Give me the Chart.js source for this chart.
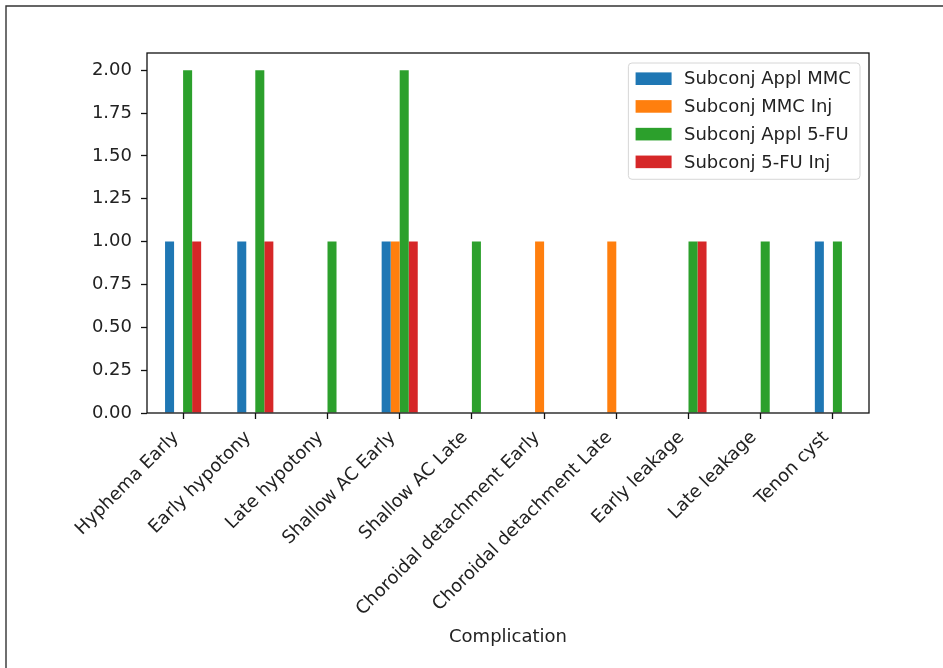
<!DOCTYPE html>
<html>
<head>
<meta charset="utf-8">
<script src="https://cdn.jsdelivr.net/npm/chart.js@4/dist/chart.umd.min.js"></script>
<style>
  html, body { margin: 0; padding: 0; background: #fff; }
  #wrap { position: relative; width: 943px; height: 668px; }
  canvas { display: block; }
</style>
</head>
<body>
<div id="wrap"><canvas id="c" width="943" height="668"></canvas></div>
<script>
// Complications per treatment group
const categories = [
  'Hyphema Early', 'Early hypotony', 'Late hypotony', 'Shallow AC Early',
  'Shallow AC Late', 'Choroidal detachment Early', 'Choroidal detachment Late',
  'Early leakage', 'Late leakage', 'Tenon cyst'
];
const seriesNames = ['Subconj Appl MMC', 'Subconj MMC Inj', 'Subconj Appl 5-FU', 'Subconj 5-FU Inj'];
const applMMC  = [1, 1, 0, 1, 0, 0, 0, 0, 0, 1];
const injMMC   = [0, 0, 0, 1, 0, 1, 1, 0, 0, 0];
const appl5FU  = [2, 2, 1, 2, 1, 0, 0, 1, 1, 1];
const inj5FU   = [1, 1, 0, 1, 0, 0, 0, 1, 0, 0];
const yTicks   = [0, 0.25, 0.5, 0.75, 1.0, 1.25, 1.5, 1.75, 2.0];
const xTitle   = 'Complication';

const colors = ['#1f77b4', '#ff7f0e', '#2ca02c', '#d62728'];
const FONT = '"DejaVu Sans", sans-serif';
const FS = 18;
const TEXT = '#222';

// white page with the output cell's frame lines
const pageFrame = {
  id: 'pageFrame',
  beforeDraw(chart) {
    const ctx = chart.ctx;
    ctx.save();
    ctx.fillStyle = '#fff';
    ctx.fillRect(0, 0, chart.width, chart.height);
    ctx.strokeStyle = '#333';
    ctx.lineWidth = 1.4;
    ctx.beginPath();
    ctx.moveTo(6, chart.height);
    ctx.lineTo(6, 6);
    ctx.lineTo(chart.width, 6);
    ctx.stroke();
    ctx.restore();
  }
};

// full box around the plot area
const axesBox = {
  id: 'axesBox',
  afterDatasetsDraw(chart) {
    const a = chart.chartArea;
    const ctx = chart.ctx;
    ctx.save();
    ctx.strokeStyle = '#111';
    ctx.lineWidth = 1.3;
    ctx.strokeRect(a.left, a.top, a.right - a.left, a.bottom - a.top);
    ctx.restore();
  }
};

// legend drawn inside the upper-right corner of the plot area
const innerLegend = {
  id: 'innerLegend',
  afterDraw(chart) {
    const ctx = chart.ctx;
    const a = chart.chartArea;
    ctx.save();
    ctx.font = FS + 'px ' + FONT;
    const dsets = chart.data.datasets;
    let maxW = 0;
    dsets.forEach(d => { maxW = Math.max(maxW, ctx.measureText(d.label).width); });
    const pad = 0.4 * FS, handle = 2.0 * FS, gap = 0.8 * FS, rowH = 1.54 * FS;
    const w = pad + handle + gap + maxW + pad;
    const h = pad * 2 + rowH * dsets.length - 0.5 * FS;
    const x = a.right - 0.5 * FS - w;
    const y = a.top + 0.5 * FS + 1;
    const r = 3.6;
    ctx.beginPath();
    ctx.moveTo(x + r, y);
    ctx.arcTo(x + w, y, x + w, y + h, r);
    ctx.arcTo(x + w, y + h, x, y + h, r);
    ctx.arcTo(x, y + h, x, y, r);
    ctx.arcTo(x, y, x + w, y, r);
    ctx.closePath();
    ctx.fillStyle = 'rgba(255,255,255,0.8)';
    ctx.fill();
    ctx.strokeStyle = '#d6d6d6';
    ctx.lineWidth = 1;
    ctx.stroke();
    ctx.textBaseline = 'middle';
    ctx.textAlign = 'left';
    dsets.forEach((d, i) => {
      const cy = y + pad + 0.5 * FS - 0.5 + i * rowH;
      ctx.fillStyle = d.backgroundColor;
      ctx.fillRect(x + pad, cy - 0.35 * FS, handle, 0.7 * FS);
      ctx.fillStyle = TEXT;
      ctx.fillText(d.label, x + pad + handle + gap - 2, cy + 1);
    });
    ctx.restore();
  }
};

const seriesValues = [applMMC, injMMC, appl5FU, inj5FU];

new Chart(document.getElementById('c'), {
  type: 'bar',
  data: {
    labels: categories,
    datasets: seriesNames.map((name, i) => ({
      label: name,
      data: seriesValues[i],
      backgroundColor: colors[i],
      borderWidth: 0,
      categoryPercentage: 0.5,
      barPercentage: 1.0
    }))
  },
  options: {
    responsive: false,
    animation: false,
    devicePixelRatio: 1,
    layout: { padding: { left: 0, top: 53, right: 74, bottom: 0 } },
    plugins: {
      legend: { display: false },
      tooltip: { enabled: false }
    },
    scales: {
      x: {
        offset: true,
        grid: {
          offset: false,
          drawOnChartArea: false,
          drawTicks: true,
          tickLength: 6,
          tickWidth: 1.3,
          tickColor: '#111'
        },
        border: { display: false },
        ticks: {
          autoSkip: false,
          maxRotation: 45,
          minRotation: 45,
          padding: 8,
          labelOffset: -7,
          color: TEXT,
          font: { family: FONT, size: FS }
        },
        title: {
          display: true,
          text: xTitle,
          color: TEXT,
          font: { family: FONT, size: FS },
          padding: { top: 4, bottom: 20 }
        },
        afterFit(scale) { scale.height = 255; }
      },
      y: {
        min: 0,
        max: 2.1,
        grid: {
          drawOnChartArea: false,
          drawTicks: true,
          tickLength: 6,
          tickWidth: 1.3,
          tickColor: '#111'
        },
        border: { display: false },
        afterBuildTicks(scale) { scale.ticks = yTicks.map(v => ({ value: v })); },
        ticks: {
          padding: 9,
          color: TEXT,
          font: { family: FONT, size: FS },
          callback: v => Number(v).toFixed(2)
        },
        afterFit(scale) { scale.width = 147; }
      }
    }
  },
  plugins: [pageFrame, axesBox, innerLegend]
});
</script>
</body>
</html>
